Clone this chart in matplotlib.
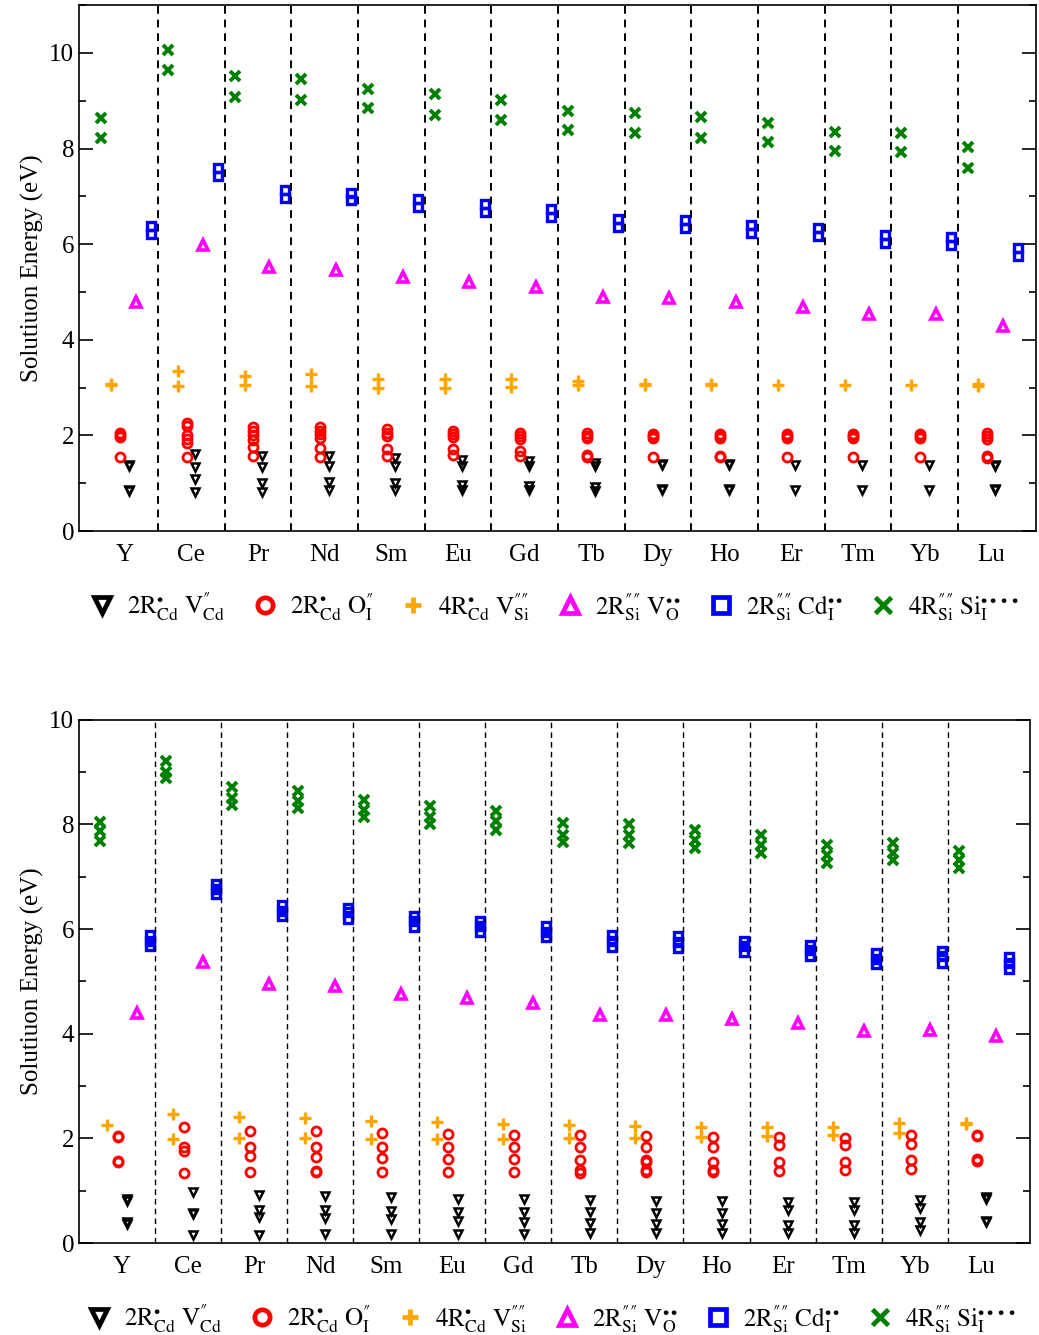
#!/usr/bin/env python3
"""
Solution energies of rare-earth doping schemes in Cd2SiO4-like host
Two panels (upper / lower), six defect-compensation schemes per element
"""

import matplotlib
matplotlib.use('Agg')
import matplotlib.pyplot as plt
from matplotlib.lines import Line2D
from matplotlib.ticker import MultipleLocator

plt.rcParams['font.family'] = ['Liberation Serif', 'DejaVu Serif']
plt.rcParams['mathtext.fontset'] = 'stix'

elements = ['Y', 'Ce', 'Pr', 'Nd', 'Sm', 'Eu', 'Gd', 'Tb', 'Dy', 'Ho', 'Er', 'Tm', 'Yb', 'Lu']

# ---- upper panel ----
top_vcd = [[1.39, 1.36, 0.86, 0.83], [1.62, 1.33, 1.08, 0.81], [1.56, 1.35, 1.00, 0.81],
           [1.58, 1.37, 1.02, 0.85], [1.52, 1.37, 1.00, 0.85], [1.48, 1.37, 0.96, 0.85],
           [1.46, 1.37, 0.94, 0.85], [1.43, 1.36, 0.92, 0.83], [1.41, 1.38, 0.89, 0.86],
           [1.40, 1.38, 0.88, 0.86], [1.38, 0.85], [1.38, 0.85], [1.38, 0.85],
           [1.39, 1.37, 0.88, 0.86]]
top_oi = [[2.05, 2.00, 1.96, 1.55], [2.27, 2.20, 2.00, 1.93, 1.85, 1.55],
          [2.17, 2.10, 2.00, 1.90, 1.75, 1.58], [2.17, 2.10, 2.02, 1.95, 1.73, 1.55],
          [2.13, 2.06, 1.99, 1.72, 1.58], [2.10, 2.03, 1.96, 1.72, 1.60],
          [2.05, 1.98, 1.92, 1.68, 1.58], [2.05, 1.99, 1.94, 1.60, 1.55],
          [2.04, 1.99, 1.94, 1.55], [2.02, 1.98, 1.94, 1.57, 1.54],
          [2.02, 1.98, 1.94, 1.54], [2.02, 1.98, 1.94, 1.55],
          [2.02, 1.98, 1.94, 1.55], [2.05, 1.99, 1.93, 1.57, 1.53]]
top_vsi = [[3.07, 3.05], [3.35, 3.04], [3.25, 3.06], [3.29, 3.04], [3.19, 3.00],
           [3.19, 3.00], [3.17, 3.02], [3.13, 3.05], [3.08, 3.05], [3.07, 3.05],
           [3.06], [3.06], [3.06], [3.08, 3.04]]
top_vo = [[4.79], [5.98], [5.52], [5.46], [5.31], [5.21], [5.10], [4.90], [4.88],
          [4.79], [4.69], [4.54], [4.54], [4.29]]
top_cdi = [[6.38, 6.21], [7.60, 7.42], [7.13, 6.96], [7.08, 6.92], [6.94, 6.77],
           [6.83, 6.67], [6.73, 6.56], [6.52, 6.35], [6.50, 6.33], [6.40, 6.23],
           [6.33, 6.17], [6.19, 6.02], [6.15, 5.98], [5.92, 5.75]]
top_sii = [[8.63, 8.21], [10.06, 9.65], [9.52, 9.08], [9.46, 9.02], [9.25, 8.85],
           [9.15, 8.71], [9.02, 8.60], [8.79, 8.38], [8.75, 8.33], [8.65, 8.23],
           [8.54, 8.13], [8.35, 7.94], [8.33, 7.92], [8.04, 7.60]]

# ---- lower panel ----
bot_vcd = [[0.84, 0.81, 0.40, 0.37], [0.98, 0.58, 0.56, 0.15], [0.92, 0.63, 0.49, 0.15],
           [0.89, 0.63, 0.47, 0.17], [0.88, 0.62, 0.45, 0.17], [0.84, 0.60, 0.43, 0.17],
           [0.84, 0.60, 0.41, 0.17], [0.82, 0.59, 0.38, 0.19], [0.81, 0.58, 0.37, 0.19],
           [0.80, 0.58, 0.36, 0.19], [0.79, 0.63, 0.35, 0.19], [0.79, 0.63, 0.35, 0.19],
           [0.82, 0.66, 0.41, 0.25], [0.87, 0.84, 0.43, 0.40]]
bot_oi = [[2.05, 2.02, 1.57, 1.54], [2.21, 1.83, 1.75, 1.33], [2.15, 1.83, 1.66, 1.35],
          [2.15, 1.83, 1.65, 1.38, 1.35], [2.10, 1.83, 1.62, 1.35], [2.09, 1.83, 1.61, 1.35],
          [2.07, 1.83, 1.60, 1.35], [2.07, 1.83, 1.59, 1.39, 1.34],
          [2.05, 1.83, 1.58, 1.54, 1.39, 1.35], [2.03, 1.83, 1.55, 1.40, 1.36],
          [2.03, 1.87, 1.55, 1.37], [2.01, 1.87, 1.54, 1.39], [2.06, 1.90, 1.59, 1.41],
          [2.07, 2.04, 1.61, 1.57]]
bot_vsi = [[2.26], [2.47, 1.98], [2.40, 2.01], [2.38, 2.01], [2.34, 1.99], [2.31, 1.99],
           [2.28, 1.99], [2.26, 2.00], [2.24, 2.00], [2.22, 2.02], [2.22, 2.05],
           [2.22, 2.06], [2.29, 2.10], [2.30, 2.27]]
bot_vo = [[4.40], [5.37], [4.95], [4.91], [4.76], [4.68], [4.59], [4.36], [4.36],
          [4.28], [4.21], [4.05], [4.07], [3.96]]
bot_cdi = [[5.88, 5.78, 5.67], [6.86, 6.77, 6.67], [6.45, 6.34, 6.24], [6.40, 6.32, 6.19],
           [6.25, 6.15, 6.04], [6.16, 6.05, 5.94], [6.06, 5.95, 5.85], [5.88, 5.77, 5.65],
           [5.86, 5.75, 5.64], [5.78, 5.67, 5.56], [5.70, 5.59, 5.48], [5.54, 5.43, 5.33],
           [5.58, 5.48, 5.35], [5.46, 5.35, 5.24]]
bot_sii = [[8.05, 7.88, 7.69], [9.22, 9.00, 8.88], [8.72, 8.50, 8.37], [8.64, 8.44, 8.31],
           [8.47, 8.28, 8.14], [8.36, 8.15, 8.01], [8.25, 8.06, 7.90], [8.03, 7.80, 7.67],
           [8.00, 7.80, 7.64], [7.90, 7.71, 7.55], [7.80, 7.61, 7.45], [7.61, 7.42, 7.26],
           [7.65, 7.45, 7.31], [7.50, 7.32, 7.16]]

DP = '\u2033'  # double prime
labels = [
    r'$\mathrm{2R}^{\bullet}_{\mathrm{Cd}}\ \mathrm{V}^{' + DP + r'}_{\mathrm{Cd}}$',
    r'$\mathrm{2R}^{\bullet}_{\mathrm{Cd}}\ \mathrm{O}^{' + DP + r'}_{\mathrm{I}}$',
    r'$\mathrm{4R}^{\bullet}_{\mathrm{Cd}}\ \mathrm{V}^{' + DP + DP + r'}_{\mathrm{Si}}$',
    r'$\mathrm{2R}^{' + DP + DP + r'}_{\mathrm{Si}}\ \mathrm{V}^{\bullet\bullet}_{\mathrm{O}}$',
    r'$\mathrm{2R}^{' + DP + DP + r'}_{\mathrm{Si}}\ \mathrm{Cd}^{\bullet\bullet}_{\mathrm{I}}$',
    r'$\mathrm{4R}^{' + DP + DP + r'}_{\mathrm{Si}}\ \mathrm{Si}^{\bullet\bullet\bullet\bullet}_{\mathrm{I}}$',
]

# marker, colour, size, edge width
styles = [
    ('v', 'black', 6.0, 1.8),
    ('o', 'red', 6.5, 2.0),
    ('+', '#ffa500', 9.0, 2.4),
    ('^', '#ff00ff', 6.5, 2.6),
    ('s', '#0000ff', 6.0, 2.4),
    ('x', '#008000', 7.5, 2.8),
]


def draw_panel(ax, series, offsets, ymax, dash_lw, xlim):
    for data, off, (mk, col, ms, mew) in zip(series, offsets, styles):
        for i, vals in enumerate(data):
            ax.plot([i + off] * len(vals), vals, linestyle='none', marker=mk,
                    markersize=ms, markeredgewidth=mew, markeredgecolor=col,
                    markerfacecolor='none', color=col)
    for i in range(len(elements) - 1):
        ax.axvline(i + 0.5, color='black', linestyle=(0, (4, 3)), linewidth=dash_lw)
    ax.set_xlim(*xlim)
    ax.set_ylim(0, ymax)
    ax.set_xticks(range(len(elements)))
    ax.set_xticklabels(elements)
    ax.yaxis.set_major_locator(MultipleLocator(2))
    ax.yaxis.set_minor_locator(MultipleLocator(1))
    ax.tick_params(axis='x', length=0, labelsize=18, pad=9)
    ax.tick_params(axis='y', which='both', direction='in', left=True, right=True,
                   labelsize=18, width=1.2)
    ax.tick_params(axis='y', which='major', length=10)
    ax.tick_params(axis='y', which='minor', length=5)
    for sp in ax.spines.values():
        sp.set_linewidth(1.2)
    ax.set_ylabel('Solutiuon Energy (eV)', fontsize=18, labelpad=4)

    handles = [Line2D([], [], linestyle='none', marker=mk, markersize=11,
                      markeredgewidth=3.4, markeredgecolor=col, markerfacecolor='none')
               for mk, col, ms, mew in styles]
    ax.legend(handles, labels, loc='upper center', bbox_to_anchor=(0.497, -0.07),
              ncol=6, frameon=False, fontsize=18, handlelength=1.0,
              handletextpad=0.5, columnspacing=1.1)


fig = plt.figure(figsize=(10.39, 13.35), dpi=100)
ax1 = fig.add_axes([0.076, 0.6022, 0.921, 0.394])
ax2 = fig.add_axes([0.076, 0.0689, 0.915, 0.392])

draw_panel(ax1, [top_vcd, top_oi, top_vsi, top_vo, top_cdi, top_sii],
           [0.06, -0.07, -0.20, 0.17, 0.40, -0.35], 11, 1.4, (-0.685, 13.67))
draw_panel(ax2, [bot_vcd, bot_oi, bot_vsi, bot_vo, bot_cdi, bot_sii],
           [0.08, -0.06, -0.23, 0.23, 0.42, -0.33], 10, 1.0, (-0.65, 13.74))

fig.savefig('out.png', dpi=100)
